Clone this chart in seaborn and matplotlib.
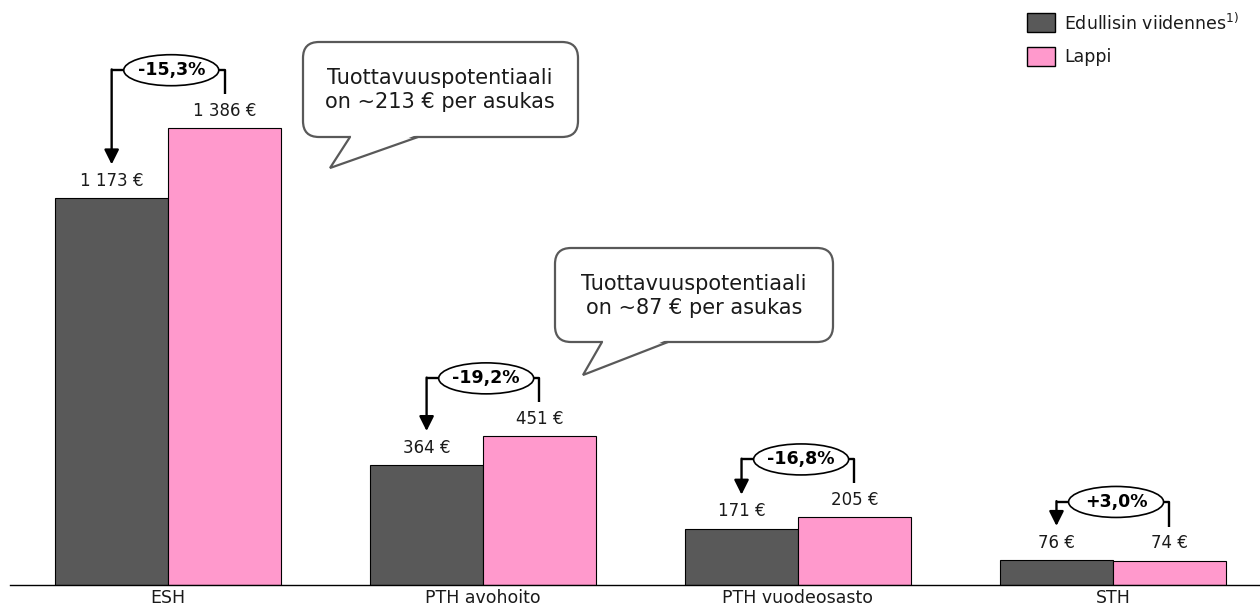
import matplotlib
matplotlib.use("Agg")
import matplotlib.pyplot as plt
import seaborn as sns
import pandas as pd
from matplotlib.patches import Ellipse, FancyBboxPatch, Polygon, Rectangle
from matplotlib.transforms import ScaledTranslation

# ---------------- data ----------------
categories = ["ESH", "PTH avohoito", "PTH vuodeosasto", "STH"]
series_names = ["Edullisin viidennes$^{1)}$", "Lappi"]
edullisin = [1173, 364, 171, 76]
lappi = [1386, 451, 205, 74]
value_labels_edullisin = ["1 173 €", "364 €", "171 €", "76 €"]
value_labels_lappi = ["1 386 €", "451 €", "205 €", "74 €"]
pct_labels = ["-15,3%", "-19,2%", "-16,8%", "+3,0%"]
callout_texts = ["Tuottavuuspotentiaali\non ~213 € per asukas",
                 "Tuottavuuspotentiaali\non ~87 € per asukas"]

colors = ["#595959", "#FF99CC"]

sns.set_theme(style="white")
plt.rcParams["font.family"] = ["DejaVu Sans"]
plt.rcParams["mathtext.fontset"] = "dejavusans"

df = pd.DataFrame({
    "cat": categories * 2,
    "value": edullisin + lappi,
    "series": ["Edullisin"] * len(categories) + ["Lappi"] * len(categories),
})

W, H = 1260, 612
fig = plt.figure(figsize=(W / 100, H / 100), dpi=100)
ax = fig.add_axes([10 / W, 27 / H, 1250 / W, 585 / H])

sns.barplot(data=df, x="cat", y="value", hue="series", palette=colors,
            width=0.717, edgecolor="black", linewidth=0.8, ax=ax,
            legend=False, saturation=1)

YMAX = 1775
ax.set_ylim(0, YMAX)
ax.set_xlim(-0.502, 3.467)
for s in ["top", "right", "left"]:
    ax.spines[s].set_visible(False)
ax.spines["bottom"].set_color("black")
ax.spines["bottom"].set_linewidth(1.0)
ax.set_yticks([])
ax.set_xlabel("")
ax.set_ylabel("")
ax.tick_params(axis="x", length=0, pad=3, labelsize=12.5, labelcolor="#1a1a1a")

# value labels
for cont, labs in zip(ax.containers, [value_labels_edullisin, value_labels_lappi]):
    ax.bar_label(cont, labels=labs, padding=6, fontsize=12, color="#1a1a1a")

# brackets
upx = YMAX / 585.0  # data units per pixel
half = 0.717 / 4
for i, (d, l, p) in enumerate(zip(edullisin, lappi, pct_labels)):
    xd, xl = i - half, i + half
    ytop = max(d, l) + 58 * upx
    ax.plot([xl, xl, xd], [l + 34 * upx, ytop, ytop], color="black", lw=1.7,
            solid_capstyle="butt", zorder=4)
    ax.annotate("", xy=(xd, d + 34 * upx), xytext=(xd, ytop + 0.8 * upx),
                arrowprops=dict(arrowstyle="-|>", color="black", lw=1.7,
                                mutation_scale=22, shrinkA=0, shrinkB=0),
                zorder=4)
    tr = fig.dpi_scale_trans + ScaledTranslation(i + 0.01, ytop, ax.transData)
    ax.add_patch(Ellipse((0, 0), 0.95, 0.31, transform=tr, facecolor="white",
                         edgecolor="black", lw=1.2, zorder=5, clip_on=False))
    ax.text(i + 0.01, ytop, p, ha="center", va="center", fontsize=12.5,
            fontweight="bold", color="black", zorder=6)

# overlay in pixel coordinates for callouts and legend
ov = fig.add_axes([0, 0, 1, 1])
ov.set_xlim(0, W)
ov.set_ylim(H, 0)
ov.axis("off")

def callout(box, tail, text, tc):
    x0, y0, x1, y1 = box
    bx0, bx1, tx, ty = tail
    ov.add_patch(FancyBboxPatch((x0, y0), x1 - x0, y1 - y0,
                                boxstyle="round,pad=0,rounding_size=16",
                                facecolor="white", edgecolor="#595959", lw=1.6,
                                zorder=2))
    ov.add_patch(Polygon([(bx0 + 1.5, y1 - 2), (bx1 - 1.5, y1 - 2), (tx, ty)],
                         closed=True, facecolor="white", edgecolor="none",
                         zorder=3))
    ov.plot([bx0, tx, bx1], [y1, ty, y1], color="#595959", lw=1.6, zorder=4,
            solid_joinstyle="miter")
    ov.text(tc[0], tc[1], text, ha="center", va="center", fontsize=15,
            color="#1a1a1a", linespacing=1.2, zorder=5)

callout((303, 42, 578, 137), (350, 418, 330, 168), callout_texts[0], (440, 90))
callout((555, 248, 833, 342), (602, 668, 583, 375), callout_texts[1], (694, 296))

# legend
for j, (name, c) in enumerate(zip(series_names, colors)):
    yy = 13 + 34 * j
    ov.add_patch(Rectangle((1027, yy), 28, 19, facecolor=c, edgecolor="black",
                           lw=1.0))
    ov.text(1064, yy + 10, name, ha="left", va="center", fontsize=12.5,
            color="#1a1a1a")

fig.savefig("out.png", dpi=100)
